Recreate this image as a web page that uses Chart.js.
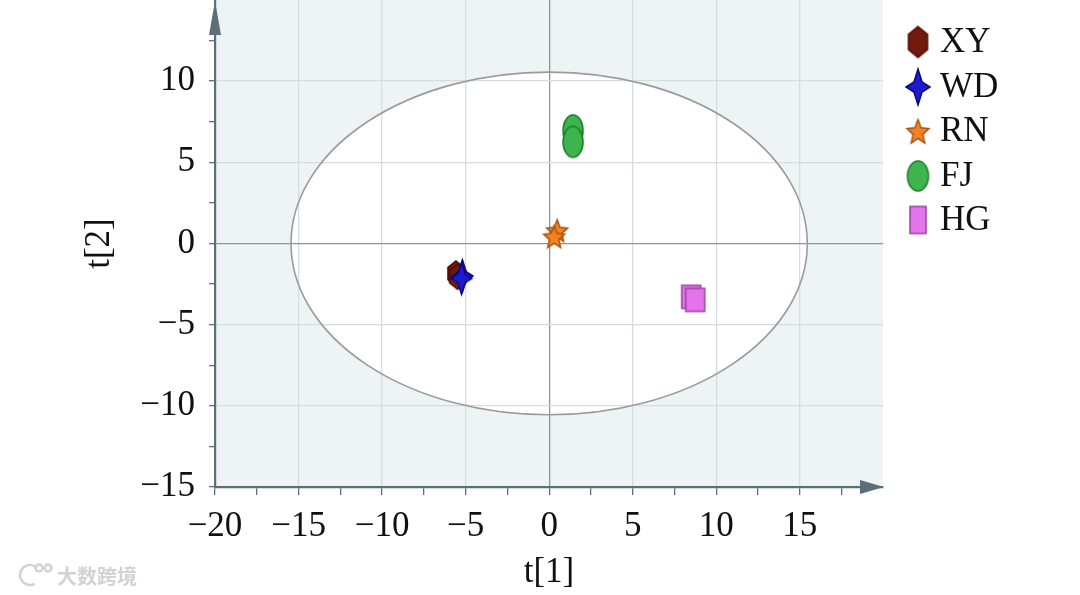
<!DOCTYPE html>
<html>
<head>
<meta charset="utf-8">
<script src="https://cdn.jsdelivr.net/npm/chart.js@4/dist/chart.umd.min.js"></script>
<style>
html,body{margin:0;padding:0;background:#fff;}
#wrap{position:relative;width:1080px;height:595px;}
</style>
</head>
<body>
<div id="wrap"><canvas id="c" width="1080" height="595"></canvas></div>
<script>
// ---- data ----
const categories = ['XY', 'WD', 'RN', 'FJ', 'HG'];
const xyX = [-5.58, -5.48];
const xyY = [-1.85, -2.05];
const wdX = [-5.19, -5.25];
const wdY = [-2.00, -2.15];
const rnX = [0.48, 0.30];
const rnY = [0.81, 0.43];
const fjX = [1.43, 1.43];
const fjY = [6.96, 6.25];
const hgX = [8.50, 8.74];
const hgY = [-3.29, -3.48];
const xTickValues = [-20, -15, -10, -5, 0, 5, 10, 15];
const yTickValues = [-15, -10, -5, 0, 5, 10];
const ellipseRadii = [15.45, 10.55];

// ---- marker canvases ----
function makeMarker(shape, w, h, fill, stroke) {
  const pad = 3;
  const c = document.createElement('canvas');
  c.width = Math.ceil(w + pad * 2);
  c.height = Math.ceil(h + pad * 2);
  const g = c.getContext('2d');
  g.translate(c.width / 2, c.height / 2);
  g.beginPath();
  if (shape === 'hex') {
    g.moveTo(0, -h / 2); g.lineTo(w / 2, -h / 4); g.lineTo(w / 2, h / 4);
    g.lineTo(0, h / 2); g.lineTo(-w / 2, h / 4); g.lineTo(-w / 2, -h / 4);
  } else if (shape === 'star4') {
    const ix = w * 0.17, iy = h * 0.14;
    g.moveTo(0, -h / 2); g.lineTo(ix, -iy); g.lineTo(w / 2, 0); g.lineTo(ix, iy);
    g.lineTo(0, h / 2); g.lineTo(-ix, iy); g.lineTo(-w / 2, 0); g.lineTo(-ix, -iy);
  } else if (shape === 'star5') {
    for (let i = 0; i < 10; i++) {
      const r = i % 2 === 0 ? 1 : 0.45;
      const a = -Math.PI / 2 + i * Math.PI / 5;
      const px = Math.cos(a) * r * w / 2, py = Math.sin(a) * r * h / 2 + h * 0.06;
      if (i === 0) g.moveTo(px, py); else g.lineTo(px, py);
    }
  } else if (shape === 'ellipse') {
    g.ellipse(0, 0, w / 2, h / 2, 0, 0, Math.PI * 2);
  } else {
    g.rect(-w / 2, -h / 2, w, h);
  }
  g.closePath();
  g.fillStyle = fill; g.fill();
  g.lineWidth = 1.5; g.strokeStyle = stroke; g.stroke();
  return c;
}
const styles = [
  {shape: 'hex', fill: '#721a0c', stroke: '#4a0c02', pw: 16, ph: 25, lw: 19, lh: 31},
  {shape: 'star4', fill: '#1c1ccc', stroke: '#0a0a80', pw: 21, ph: 32, lw: 24, lh: 36},
  {shape: 'star5', fill: '#f28224', stroke: '#a5540e', pw: 22, ph: 24, lw: 23, lh: 26},
  {shape: 'ellipse', fill: '#3db44c', stroke: '#1c7a2a', pw: 20, ph: 31, lw: 21, lh: 30},
  {shape: 'rect', fill: '#e474ec', stroke: '#9a42a2', pw: 19, ph: 23, lw: 16, lh: 27}
];
const plotMarkers = styles.map(s => makeMarker(s.shape, s.pw, s.ph, s.fill, s.stroke));
const legendMarkers = styles.map(s => makeMarker(s.shape, s.lw, s.lh, s.fill, s.stroke));

const seriesX = [xyX, wdX, rnX, fjX, hgX];
const seriesY = [xyY, wdY, rnY, fjY, hgY];
const datasets = categories.map((name, i) => ({
  label: name,
  data: seriesX[i].map((x, k) => ({x: x, y: seriesY[i][k]})),
  pointStyle: plotMarkers[i],
  pointRadius: 12,
  pointHoverRadius: 12,
  showLine: false,
  order: categories.length - i
}));

const AXIS = '#5b6f79';
const FONT = "'Liberation Serif', 'Times New Roman', serif";
const fmt = v => (v < 0 ? '\u2212' + Math.abs(v) : String(v));
const tickLabel = v => (xTickValues.concat(yTickValues).some(t => Math.abs(t - v) < 1e-6) ? fmt(v) : '');
const gridColor = ctx => {
  const v = ctx.tick ? ctx.tick.value : null;
  if (v === null) return 'transparent';
  if (Math.abs(v) < 1e-6) return '#8c979c';
  if (Math.abs(v / 5 - Math.round(v / 5)) < 1e-6) return '#d6dde0';
  return 'transparent';
};

const bgPlugin = {
  id: 'bg',
  beforeDraw(chart) {
    const {ctx, chartArea: a, scales: {x, y}} = chart;
    ctx.save();
    ctx.fillStyle = '#eef3f5';
    ctx.fillRect(a.left, a.top, a.right - a.left, a.bottom - a.top);
    const cx = x.getPixelForValue(0), cy = y.getPixelForValue(0);
    const rx = Math.abs(x.getPixelForValue(ellipseRadii[0]) - cx);
    const ry = Math.abs(y.getPixelForValue(ellipseRadii[1]) - cy);
    ctx.beginPath(); ctx.ellipse(cx, cy, rx, ry, 0, 0, Math.PI * 2);
    ctx.fillStyle = '#ffffff'; ctx.fill();
    ctx.restore();
  },
  beforeDatasetsDraw(chart) {
    const {ctx, scales: {x, y}} = chart;
    const cx = x.getPixelForValue(0), cy = y.getPixelForValue(0);
    const rx = Math.abs(x.getPixelForValue(ellipseRadii[0]) - cx);
    const ry = Math.abs(y.getPixelForValue(ellipseRadii[1]) - cy);
    ctx.save();
    ctx.beginPath(); ctx.ellipse(cx, cy, rx, ry, 0, 0, Math.PI * 2);
    ctx.strokeStyle = '#9b9b9b'; ctx.lineWidth = 1.6; ctx.stroke();
    ctx.restore();
  },
  afterDraw(chart) {
    const {ctx, chartArea: a} = chart;
    ctx.save();
    ctx.fillStyle = AXIS;
    // y arrow
    ctx.beginPath(); ctx.moveTo(a.left, 1); ctx.lineTo(a.left - 6, 35); ctx.lineTo(a.left + 6, 35); ctx.closePath(); ctx.fill();
    // x arrow
    ctx.beginPath(); ctx.moveTo(a.right + 1, a.bottom); ctx.lineTo(a.right - 23, a.bottom - 7); ctx.lineTo(a.right - 23, a.bottom + 7); ctx.closePath(); ctx.fill();
    // legend
    const ly = [42, 87, 131, 176, 220];
    ctx.font = '35px ' + FONT;
    ctx.fillStyle = '#111';
    ctx.textBaseline = 'middle';
    ctx.textAlign = 'left';
    categories.forEach((name, i) => {
      const m = legendMarkers[i];
      ctx.drawImage(m, 918 - m.width / 2, ly[i] - m.height / 2);
      ctx.fillText(name, 940, ly[i] + 1);
    });
    // watermark
    ctx.fillStyle = '#d2d2d2';
    ctx.strokeStyle = '#d2d2d2';
    ctx.lineWidth = 2.5;
    ctx.beginPath(); ctx.arc(30, 575, 10, Math.PI * 0.35, Math.PI * 1.75); ctx.stroke();
    ctx.beginPath(); ctx.arc(39, 568, 3.5, 0, Math.PI * 2); ctx.stroke();
    ctx.beginPath(); ctx.arc(48, 568, 3.5, 0, Math.PI * 2); ctx.stroke();
    ctx.font = "bold 20px 'Noto Sans CJK SC', sans-serif";
    ctx.fillText('大数跨境', 57, 576);
    ctx.restore();
  }
};

new Chart(document.getElementById('c'), {
  type: 'scatter',
  data: {datasets},
  options: {
    responsive: false,
    animation: false,
    events: [],
    layout: {autoPadding: false, padding: {left: 0, right: 197, top: 0, bottom: 0}},
    plugins: {legend: {display: false}, tooltip: {enabled: false}},
    scales: {
      x: {
        type: 'linear', min: -20, max: 19.98,
        afterFit(s) { s.height = 108; s.paddingLeft = 0; s.paddingRight = 0; },
        ticks: {stepSize: 2.5, includeBounds: false, callback: tickLabel, maxRotation: 0, autoSkip: false,
          font: {family: FONT, size: 35}, color: '#111', padding: 11},
        grid: {color: gridColor, lineWidth: 1.3, tickColor: AXIS, tickLength: 8, tickWidth: 1.3},
        border: {color: AXIS, width: 2.2},
        title: {display: true, text: 't[1]', font: {family: FONT, size: 35}, color: '#111', padding: {top: 0, bottom: 1}}
      },
      y: {
        type: 'linear', min: -15, max: 14.99,
        afterFit(s) { s.width = 215; s.paddingTop = 0; s.paddingBottom = 0; },
        ticks: {stepSize: 2.5, includeBounds: false, callback: tickLabel, autoSkip: false,
          font: {family: FONT, size: 35}, color: '#111', padding: 14},
        grid: {color: gridColor, lineWidth: 1.3, tickColor: AXIS, tickLength: 6, tickWidth: 1.3},
        border: {color: AXIS, width: 2.2},
        title: {display: true, text: 't[2]', font: {family: FONT, size: 35}, color: '#111', padding: {top: 79, bottom: 0}}
      }
    }
  },
  plugins: [bgPlugin]
});
</script>
</body>
</html>
